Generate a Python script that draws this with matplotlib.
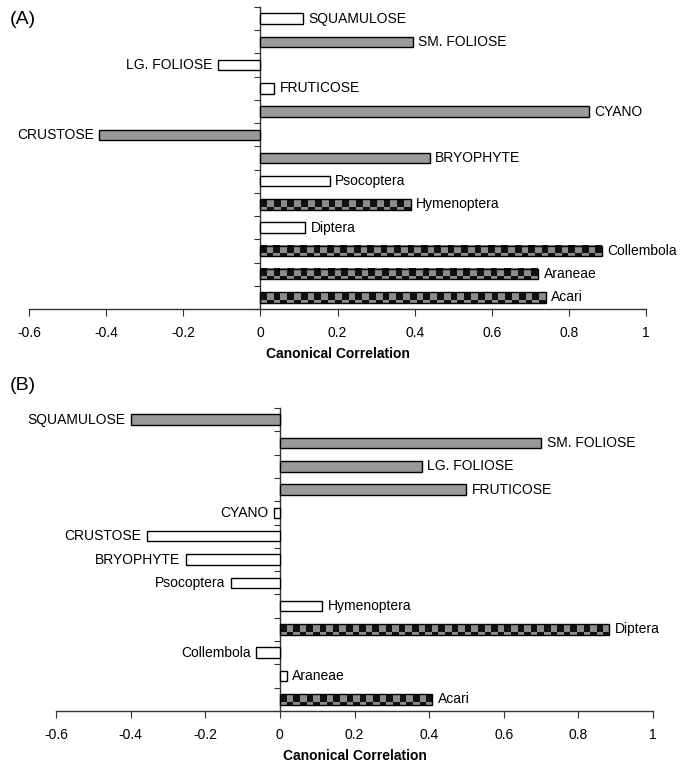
import matplotlib
matplotlib.use('Agg')
import matplotlib.pyplot as plt
import numpy as np
from matplotlib.colors import ListedColormap

plt.rcParams['font.family'] = ['Liberation Sans', 'DejaVu Sans']

cats = ['SQUAMULOSE', 'SM. FOLIOSE', 'LG. FOLIOSE', 'FRUTICOSE', 'CYANO',
        'CRUSTOSE', 'BRYOPHYTE', 'Psocoptera', 'Hymenoptera', 'Diptera',
        'Collembola', 'Araneae', 'Acari']

a_vals = [0.111, 0.395, -0.109, 0.036, 0.852, -0.418, 0.439, 0.18, 0.39,
          0.117, 0.885, 0.72, 0.74]
a_style = ['white', 'gray', 'white', 'white', 'gray', 'gray', 'gray', 'white',
           'check', 'white', 'check', 'check', 'check']

b_vals = [-0.40, 0.70, 0.38, 0.50, -0.016, -0.357, -0.252, -0.131, 0.114,
          0.882, -0.064, 0.018, 0.409]
b_style = ['gray', 'gray', 'gray', 'gray', 'white', 'white', 'white', 'white',
           'white', 'check', 'white', 'white', 'check']

xticks = [-0.6, -0.4, -0.2, 0, 0.2, 0.4, 0.6, 0.8, 1]
xticklabels = ['-0.6', '-0.4', '-0.2', '0', '0.2', '0.4', '0.6', '0.8', '1']

checker_cmap = ListedColormap(['#111111', '#8c8c8c'])


def draw_panel(ax, vals, styles):
    n = len(cats)
    ypos = np.arange(n)
    h = 0.45
    for y, v, s, name in zip(ypos, vals, styles, cats):
        if s == 'check':
            bar = ax.barh(y, v, height=h, color='none', edgecolor='black',
                          linewidth=1, zorder=3)[0]
            x0, w = bar.get_x(), bar.get_width()
            y0, bh = bar.get_y(), bar.get_height()
            # checkered fill, one row of squares with a thin offset strip below
            ncell = max(1, int(round(abs(w) / 0.0175)))
            row = np.arange(ncell) % 2
            img = np.vstack([row, row, row, 1 - row])
            ax.imshow(img, cmap=checker_cmap, aspect='auto', interpolation='nearest',
                      extent=(x0, x0 + w, y0 + bh, y0), zorder=2)
        else:
            fc = '#999999' if s == 'gray' else 'white'
            ax.barh(y, v, height=h, color=fc, edgecolor='black',
                    linewidth=1, zorder=3)
        if v >= 0:
            ax.annotate(name, (v, y), xytext=(4, 0), textcoords='offset points',
                        ha='left', va='center', fontsize=10)
        else:
            ax.annotate(name, (v, y), xytext=(-4, 0), textcoords='offset points',
                        ha='right', va='center', fontsize=10)

    ax.set_xlim(-0.6, 1)
    ax.set_ylim(n - 0.5, -0.5)
    ax.set_yticks(np.arange(n + 1) - 0.5)
    ax.set_yticklabels([])
    ax.set_xticks(xticks)
    ax.set_xticklabels(xticklabels, fontsize=10)
    ax.set_xlabel('Canonical Correlation', fontsize=10, fontweight='bold', labelpad=5)
    for side in ['top', 'right']:
        ax.spines[side].set_visible(False)
    ax.spines['left'].set_position(('data', 0))
    for side in ['left', 'bottom']:
        ax.spines[side].set_color('#333333')
        ax.spines[side].set_linewidth(1)
    ax.tick_params(axis='x', direction='out', length=5, color='#333333', pad=7)
    ax.tick_params(axis='y', direction='out', length=4, color='#333333')


fig = plt.figure(figsize=(6.9, 7.66), dpi=100)
ax_a = fig.add_axes([29 / 690, 1 - 309 / 766, 617 / 690, 302 / 766])
ax_b = fig.add_axes([56 / 690, 1 - 711 / 766, 597 / 690, 303 / 766])

draw_panel(ax_a, a_vals, a_style)
draw_panel(ax_b, b_vals, b_style)

fig.text(10 / 690, 1 - 20 / 766, '(A)', fontsize=14, va='center', ha='left')
fig.text(10 / 690, 1 - 385 / 766, '(B)', fontsize=14, va='center', ha='left')

fig.savefig('out.png', dpi=100)
